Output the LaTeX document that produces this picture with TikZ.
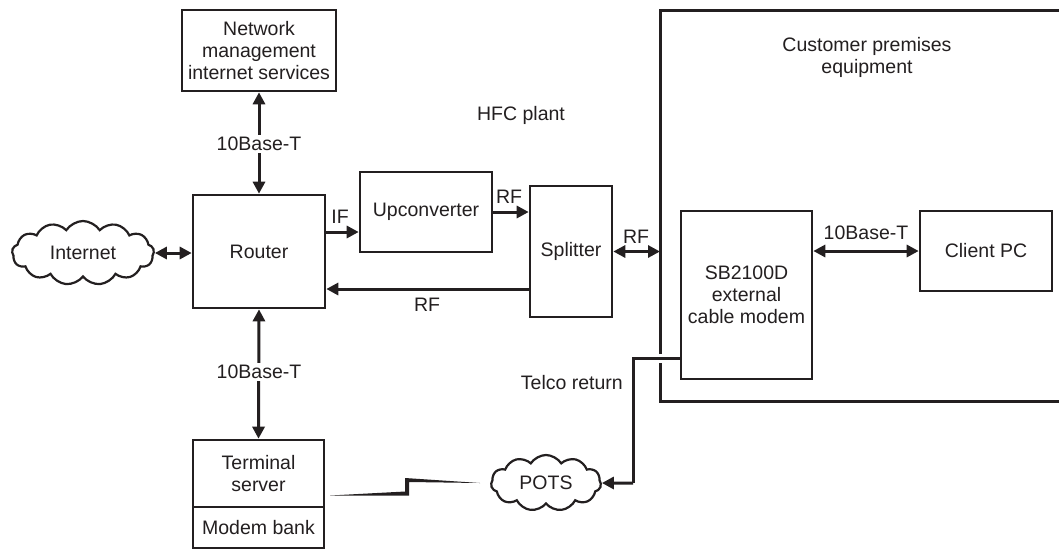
\documentclass[tikz,border=0pt]{standalone}
\usepackage{fontspec}
\setmainfont{Liberation Sans}
\usetikzlibrary{arrows.meta,shapes.symbols}
\definecolor{ink}{RGB}{35,31,32}
\begin{document}
\begin{tikzpicture}[x=1pt,y=-1pt, color=ink,
  every node/.style={font=\fontsize{19.5}{22}\selectfont, text=ink},
  box/.style={draw=ink, line width=2.6pt, inner sep=0pt, align=center},
  cloudbox/.style={draw=ink, line width=2.2pt, cloud, cloud puffs=13, cloud puff arc=115, cloud ignores aspect, inner sep=0pt},
  lbl/.style={fill=white, inner sep=2pt},
  txt/.style={inner sep=0pt, align=center},
  arr/.style={draw=ink, line width=3pt, -{Triangle[length=12pt,width=12pt]}},
  darr/.style={draw=ink, line width=3pt, {Triangle[length=12pt,width=12pt]}-{Triangle[length=12pt,width=12pt]}}
]
\useasboundingbox (0,0) rectangle (1059,550);
\fill[white] (0,0) rectangle (1059,550);

% nodes
\node[box, minimum width=154pt, minimum height=81pt] (nm) at (259,50.5) {Network\\management\\internet services};
\node[box, minimum width=132pt, minimum height=113pt] (router) at (259,251.5) {Router};
\node[box, minimum width=132pt, minimum height=80pt] (up) at (426,212) {Upconverter};
\node[box, minimum width=82pt, minimum height=131pt] (split) at (571,251.5) {Splitter};
\node[box, minimum width=131pt, minimum height=168pt] (modem) at (746.5,295) {SB2100D\\external\\cable modem};
\node[box, minimum width=132pt, minimum height=80pt] (client) at (986,251) {Client PC};
\node[box, minimum width=131pt, minimum height=67pt] (term) at (258.5,473.5) {Terminal\\server};
\node[box, minimum width=131pt, minimum height=41pt] (bank) at (258.5,527.5) {Modem bank};
\node[cloudbox, minimum width=142pt, minimum height=64pt] (inet) at (83,253) {Internet};
\node[cloudbox, cloud puffs=11, minimum width=110pt, minimum height=56pt] (pots) at (546,483) {POTS};

\node[txt] (hfc) at (521,115) {HFC plant};
\node[txt] (cpetxt) at (867,57) {Customer premises\\equipment};

% customer premises box
\draw[line width=3pt] (1065,10) -- (660,10) -- (660,401) -- (1065,401);
\coordinate (cpe) at (660,251.5);

% connectors
\draw[darr] (nm.south) -- (router.north);
\node[lbl] at (259,144) {10Base-T};
\draw[darr] (router.south) -- (term.north);
\node[lbl] at (259,372) {10Base-T};
\draw[darr] (inet.east) -- (router.west |- inet.east);

\draw[arr] ([yshift=19.5pt]router.east) -- ([yshift=19.5pt]router.east -| up.west);
\node[txt] at (340,217) {IF};
\draw[arr] (up.east) -- (up.east -| split.west);
\node[txt] at (509,197) {RF};
\draw[darr] (split.east) -- (cpe);
\node[txt] at (636,237) {RF};
\draw[arr] ([yshift=-37.5pt]split.west) -- ([yshift=-37.5pt]split.west -| router.east);
\node[txt] at (427,305) {RF};
\draw[darr] (modem.east |- client.west) -- (client.west);
\node[txt] at (866,233) {10Base-T};

% telco return
\coordinate (tA) at (633,358);
\coordinate (tB) at (633,483);
\draw[white, line width=9pt] (655,358) -- (665,358);
\draw[line width=3pt] (modem.west |- tA) -- (tA) -- (tB);
\draw[arr] (tB) -- (pots.east);
\node[txt, anchor=east] at (623,383) {Telco return};

% lightning link
\fill[ink] (330,495.5) -- (409,495.5) -- (409,482) -- (480,483) -- (405,478) -- (405,491.5) -- cycle;
\end{tikzpicture}
\end{document}
